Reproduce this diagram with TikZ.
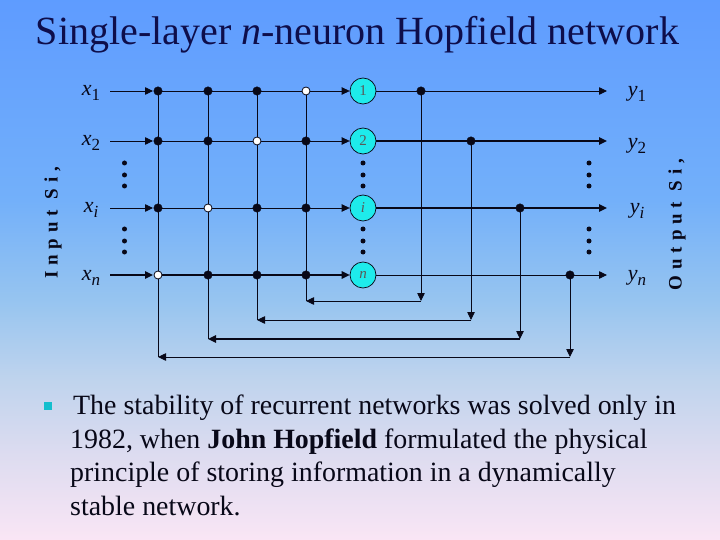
\documentclass[tikz,border=0pt]{standalone}
\usepackage{fontspec}
\setmainfont{Liberation Serif}
\usetikzlibrary{arrows.meta,shadings}
\definecolor{ink}{RGB}{8,8,24}
\definecolor{titleink}{RGB}{14,14,75}
\definecolor{neuron}{RGB}{30,235,235}
\definecolor{bul}{RGB}{20,190,205}
\pgfdeclareverticalshading{slidebg}{100bp}{
 rgb(0bp)=(0.98,0.90,0.96);
 rgb(25bp)=(0.98,0.90,0.96);
 rgb(33.3bp)=(0.86,0.86,0.94);
 rgb(39.8bp)=(0.75,0.83,0.93);
 rgb(47.2bp)=(0.59,0.77,0.94);
 rgb(56.5bp)=(0.45,0.69,0.98);
 rgb(75bp)=(0.37,0.61,1);
 rgb(100bp)=(0.37,0.61,1)}
\tikzset{
 wire/.style={draw=ink,line width=0.8pt},
 thickwire/.style={draw=ink,line width=1.4pt},
 sig/.style={-{Triangle[length=8pt,width=7.5pt]},shorten >=0pt},
 bdot/.style={circle,fill=ink,draw=ink,inner sep=0pt,minimum size=8.5pt},
 wdot/.style={circle,fill=white,draw=ink,line width=0.8pt,inner sep=0pt,minimum size=8pt},
 sdot/.style={circle,fill=ink,inner sep=0pt,minimum size=5pt},
 neur/.style={circle,fill=neuron,draw=ink,line width=0.7pt,inner sep=0pt,minimum size=26pt,font=\fontsize{15}{15}\selectfont,text=black!65},
 lab/.style={font=\fontsize{22}{22}\selectfont,text=ink,inner sep=0pt},
 side/.style={font=\bfseries\fontsize{19}{19}\selectfont,text=ink,inner sep=0pt,rotate=90},
}
\newcommand{\spaced}[1]{\addfontfeatures{LetterSpace=31}#1}
\newcommand{\lbl}[2]{\textit{#1}\raisebox{-5pt}{\fontsize{17}{17}\selectfont #2}}
\begin{document}
\begin{tikzpicture}[x=1pt,y=-1pt]
\useasboundingbox (0,0) rectangle (720,540);
\shade[shading=slidebg] (0,0) rectangle (720,540);
% title
\node[anchor=base,inner sep=0pt,font=\fontsize{40}{40}\selectfont,text=titleink] (title) at (357.5,45)
 {Single-layer \textit{n}-neuron Hopfield network};
% neurons
\node[neur] (n1) at (363,91) {1};
\node[neur] (n2) at (363,141) {2};
\node[neur] (ni) at (363,208) {\textit{i}};
\node[neur] (nn) at (363,275) {\textit{n}};
% row start / end points
\foreach \r/\y in {1/91,2/141,i/208,n/275}{
 \coordinate (in\r) at (110,\y);
 \coordinate (out\r) at (607,\y);
}
% junctions on input side
\foreach \c/\x in {a/158,b/208,c/257,d/306}{
 \foreach \r/\y in {1/91,2/141,i/208,n/275}{
  \coordinate (j\c\r) at (\x,\y);
 }
}
\coordinate (op1) at (421,91);
\coordinate (oq2) at (471,141);
\coordinate (ori) at (520,208);
\coordinate (osn) at (570,275);
% feedback corners
\coordinate (fa) at (158,357); \coordinate (fb) at (208,339); \coordinate (fc) at (257,320); \coordinate (fd) at (306,301);
\coordinate (ga) at (570,357); \coordinate (gb) at (520,339); \coordinate (gc) at (471,320); \coordinate (gd) at (421,301);
% vertical grid
\draw[wire] (ja1) -- (fa);
\draw[wire] (jb1) -- (fb);
\draw[wire] (jc1) -- (fc);
\draw[wire] (jd1) -- (fd);
% input lines
\draw[wire,sig] (in1) -- (153,91);
\draw[wire] (ja1) -- (jd1);
\draw[wire,sig] (jd1) -- (n1);
\draw[wire,sig] (in2) -- (153,141);
\draw[wire] (ja2) -- (jd2);
\draw[wire,sig] (jd2) -- (n2);
\draw[wire,sig] (ini) -- (153,208);
\draw[wire] (jai) -- (jdi);
\draw[wire,sig] (jdi) -- (ni);
\draw[thickwire,sig] (inn) -- (153,275);
\draw[thickwire] (jan) -- (jdn);
\draw[thickwire,sig] (jdn) -- (nn);
% output lines
\draw[wire,sig] (n1) -- (out1);
\draw[thickwire,sig] (n2) -- (out2);
\draw[thickwire,sig] (ni) -- (outi);
\draw[wire,sig] (nn) -- (outn);
% output verticals and feedback
\draw[wire,sig] (op1) -- (gd);
\draw[wire,sig] (oq2) -- (gc);
\draw[wire,sig] (ori) -- (gb);
\draw[wire,sig] (osn) -- (ga);
\draw[wire,sig] (gd) -- (fd);
\draw[wire,sig] (gc) -- (fc);
\draw[thickwire,sig] (gb) -- (fb);
\draw[wire,sig] (ga) -- (fa);
% junction dots
\foreach \p in {ja1,jb1,jc1,ja2,jb2,jd2,jai,jci,jdi,jbn,jcn,jdn,op1,oq2,ori,osn}{\node[bdot] at (\p) {};}
\foreach \p in {jd1,jc2,jbi,jan}{\node[wdot] at (\p) {};}
% ellipsis dots
\foreach \x/\y in {124.5/163,124.5/175,124.5/186,124.5/229,124.5/241,124.5/252,
                   363/163,363/175,363/186,363/229,363/241,363/252,
                   589/163,589/175,589/186,589/229,589/241,589/252}{
 \node[sdot] at (\x,\y) {};
}
% labels
\node[lab] (x1) at (91,93) {\lbl{x}{1}};
\node[lab] (x2) at (91,143) {\lbl{x}{2}};
\node[lab] (xi) at (91,210) {\lbl{x}{\textit{i}}};
\node[lab] (xn) at (91,278) {\lbl{x}{\textit{n}}};
\node[lab] (y1) at (637,94) {\lbl{y}{1}};
\node[lab] (y2) at (637,146) {\lbl{y}{2}};
\node[lab] (yi) at (637,211) {\lbl{y}{\textit{i}}};
\node[lab] (yn) at (637,278) {\lbl{y}{\textit{n}}};
\node[side] (inp) at (53,223) {\spaced{Input Si,}};
\node[side] (outp) at (677,224.5) {\spaced{Output Si,}};
% body text
\node[rectangle,fill=bul,inner sep=0pt,minimum size=8pt] (bullet) at (47.5,406) {};
\node[anchor=base west,inner sep=0pt,font=\fontsize{27.9}{33.4}\selectfont,text=ink,align=left] (body) at (70,515)
 {\hspace*{3pt}The stability of recurrent networks was solved only in\\
  1982, when \textbf{John Hopfield} formulated the physical\\
  principle of storing information in a dynamically\\
  stable network.};
\end{tikzpicture}
\end{document}
